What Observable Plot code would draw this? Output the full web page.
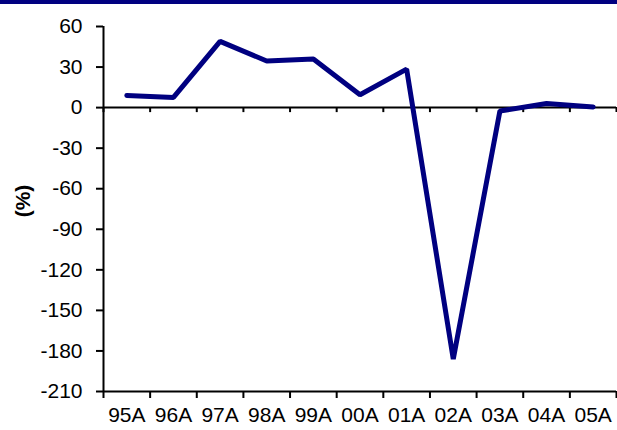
<!DOCTYPE html>
<html><head><meta charset="utf-8">
<script src="https://cdn.jsdelivr.net/npm/d3@7"></script>
<script src="https://cdn.jsdelivr.net/npm/@observablehq/plot@0.6"></script>
<style>
body{margin:0;background:#fff}
#bar{height:4px;background:#000080;width:617px}
</style>
</head><body><div id="bar"></div><div id="chart"></div>
<script>
const categories = ["95A","96A","97A","98A","99A","00A","01A","02A","03A","04A","05A"];
const values = [9, 7.5, 49, 34.5, 36, 9.5, 28.5, -186, -2.5, 3, 0.5];
const yTicks = [60, 30, 0, -30, -60, -90, -120, -150, -180, -210];
const yLabel = "(%)";

const data = categories.map((c, i) => ({pos: i + 0.5, label: c, value: values[i]}));
const bounds = d3.range(categories.length + 1);
const yMin = d3.min(yTicks), yMax = d3.max(yTicks);

const chart = Plot.plot({
  width: 617, height: 426,
  marginLeft: 103, marginRight: 1, marginTop: 22, marginBottom: 39,
  style: {fontFamily: "'Liberation Sans', Arial, sans-serif", fontSize: "21px", color: "#000", background: "#fff"},
  x: {domain: [0, categories.length]},
  y: {domain: [yMin, yMax]},
  marks: [
    Plot.ruleY([0], {stroke: "#000", strokeWidth: 2}),
    Plot.ruleX(bounds, {x: d => d, y1: 0, y2: 0, insetBottom: -5, stroke: "#000", strokeWidth: 2}),
    Plot.ruleY([yMin], {stroke: "#000", strokeWidth: 2}),
    Plot.ruleX([0], {y1: yMin, y2: yMax, stroke: "#000", strokeWidth: 2}),
    Plot.axisX(bounds, {tickSize: 7, tickFormat: () => "", strokeWidth: 2, stroke: "#000", label: null}),
    Plot.axisX(data.map(d => d.pos), {tickSize: 0, tickPadding: 16, tickFormat: d => categories[Math.floor(d)], label: null, fill: "#000", fontSize: 21}),
    Plot.axisY(yTicks, {tickSize: 7, tickPadding: 14, tickFormat: d => String(d), strokeWidth: 2, stroke: "#000", fill: "#000", fontSize: 21, label: null}),
    Plot.text([yLabel], {frameAnchor: "left", textAnchor: "middle", rotate: -90, dx: -80, dy: -8, fontWeight: "bold", fontSize: 21, fill: "#000"}),
    Plot.line(data, {x: "pos", y: "value", stroke: "#000080", strokeWidth: 5, strokeLinecap: "round", strokeLinejoin: "miter"})
  ]
});
document.getElementById("chart").append(chart);
</script>
</body></html>
